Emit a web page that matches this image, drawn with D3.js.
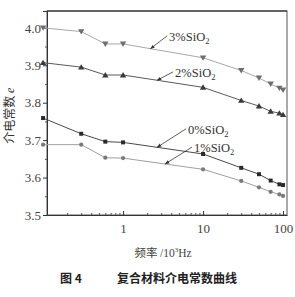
<!DOCTYPE html>
<html>
<head>
<meta charset="utf-8">
<script src="https://cdn.jsdelivr.net/npm/d3@7"></script>
<style>
  body { margin: 0; background: #fff; }
  svg { display: block; }
  .serif { font-family: "Liberation Serif", "DejaVu Serif", serif; }
  .cjk { font-family: "Noto Sans CJK SC", sans-serif; }
</style>
</head>
<body>
<svg width="295" height="297"></svg>
<script>
// data
const freqs = [0.1, 0.3, 0.6, 1, 10, 30, 50, 70, 90, 100];
const sio2_3 = [4.000, 3.990, 3.957, 3.957, 3.920, 3.886, 3.866, 3.850, 3.839, 3.834];
const sio2_2 = [3.907, 3.895, 3.874, 3.874, 3.841, 3.806, 3.791, 3.777, 3.772, 3.768];
const sio2_0 = [3.759, 3.717, 3.696, 3.694, 3.663, 3.626, 3.609, 3.592, 3.582, 3.580];
const sio2_1 = [3.688, 3.688, 3.653, 3.652, 3.622, 3.591, 3.574, 3.562, 3.555, 3.551];
const yTicks = [3.5, 3.6, 3.7, 3.8, 3.9, 4.0];
const xTicks = [1, 10, 100];

const series = [
  { name: "3", values: sio2_3, line: "#a8a8a8", mark: "#6e6e6e", shape: "down" },
  { name: "2", values: sio2_2, line: "#5a5a5a", mark: "#3a3a3a", shape: "up" },
  { name: "0", values: sio2_0, line: "#4a4a4a", mark: "#2a2a2a", shape: "square" },
  { name: "1", values: sio2_1, line: "#a0a0a0", mark: "#7a7a7a", shape: "circle" }
];

// label callouts: where the arrow touches the curve, where the text starts
const callouts = [
  { name: "3", tipF: 2.2, textF: 3.76, textV: 3.965 },
  { name: "2", tipF: 2.66, textF: 4.47, textV: 3.869 },
  { name: "0", tipF: 2.66, textF: 6.5, textV: 3.717 },
  { name: "1", tipF: 3.35, textF: 7.7, textV: 3.668 }
];

const svg = d3.select("svg");
const margin = { top: 11, right: 8, bottom: 82, left: 47 };
const width = +svg.attr("width") - margin.left - margin.right;
const height = +svg.attr("height") - margin.top - margin.bottom;

const x = d3.scaleLog().domain([0.112, 112]).range([0, width]);
const y = d3.scaleLinear().domain([3.5, 4.045]).range([height, 0]);

const g = svg.append("g")
  .attr("transform", `translate(${margin.left},${margin.top})`);

// arrow head
svg.append("defs").append("marker")
  .attr("id", "arrow")
  .attr("viewBox", "0 0 10 10")
  .attr("refX", 9).attr("refY", 5)
  .attr("markerWidth", 6).attr("markerHeight", 6)
  .attr("orient", "auto")
  .append("path")
    .attr("d", "M0,1.5L10,5L0,8.5Z")
    .attr("fill", "#333");

// frame
g.append("rect")
  .attr("width", width).attr("height", height)
  .attr("fill", "none").attr("stroke", "#555").attr("stroke-width", 1);
g.append("line")
  .attr("x1", 0).attr("x2", width).attr("y1", 0).attr("y2", 0)
  .attr("stroke", "#222").attr("stroke-width", 1.2);

// y axis
const yAxis = g.append("g")
  .attr("class", "serif")
  .call(d3.axisLeft(y).tickValues(yTicks).tickFormat(d3.format(".1f")).tickSize(4).tickPadding(2));
yAxis.select(".domain").attr("stroke", "#333");
yAxis.selectAll("text").attr("font-size", 13).attr("fill", "#444");
yAxis.selectAll("line").attr("stroke", "#333");
g.append("g")
  .call(d3.axisLeft(y).tickValues(d3.range(3.55, 4.05, 0.1)).tickFormat("").tickSize(2))
  .call(s => s.select(".domain").remove())
  .selectAll("line").attr("stroke", "#555");

// x axis (log), ticks pointing inward
const minor = [];
[0.1, 1, 10].forEach(d => d3.range(2, 10).forEach(k => minor.push(d * k)));
const xAxis = g.append("g")
  .attr("class", "serif")
  .attr("transform", `translate(0,${height})`)
  .call(d3.axisBottom(x).tickValues(xTicks).tickFormat(d3.format("d")).tickSizeInner(-4).tickSizeOuter(0).tickPadding(9));
xAxis.select(".domain").attr("stroke", "#333");
xAxis.selectAll("text").attr("font-size", 13).attr("fill", "#444");
xAxis.selectAll("line").attr("stroke", "#333");
g.append("g")
  .attr("transform", `translate(0,${height})`)
  .call(d3.axisBottom(x).tickValues(minor.filter(d => d > 0.112 && d < 112)).tickFormat("").tickSizeInner(-2).tickSizeOuter(0))
  .call(s => s.select(".domain").remove())
  .selectAll("line").attr("stroke", "#555");

// curves
const line = d3.line()
  .x((d, i) => x(freqs[i]))
  .y(d => y(d));

series.forEach(s => {
  g.append("path")
    .datum(s.values)
    .attr("fill", "none")
    .attr("stroke", s.line)
    .attr("stroke-width", 1)
    .attr("d", line);

  const pts = g.append("g").selectAll("path")
    .data(s.values)
    .enter().append("path")
      .attr("transform", (d, i) => `translate(${x(freqs[i])},${y(d)})`)
      .attr("fill", s.mark);

  if (s.shape === "down") pts.attr("d", "M-3.2,-2.4L3.2,-2.4L0,3Z");
  if (s.shape === "up") pts.attr("d", "M-3.2,2.4L3.2,2.4L0,-3Z");
  if (s.shape === "square") pts.attr("d", "M-2,-2H2V2H-2Z");
  if (s.shape === "circle") pts.attr("d", d3.symbol(d3.symbolCircle, 14)());
});

// callout labels with arrows
const valueAt = (vals, f) => {
  const lf = Math.log10(f);
  const i = d3.bisectLeft(freqs, f);
  const l0 = Math.log10(freqs[i - 1]), l1 = Math.log10(freqs[i]);
  return vals[i - 1] + (vals[i] - vals[i - 1]) * (lf - l0) / (l1 - l0);
};

callouts.forEach(c => {
  const s = series.find(d => d.name === c.name);
  const tx = x(c.tipF), ty = y(valueAt(s.values, c.tipF));
  const lx = x(c.textF), ly = y(c.textV);

  g.append("line")
    .attr("x1", lx - 2).attr("y1", ly - 5)
    .attr("x2", tx).attr("y2", ty)
    .attr("stroke", "#333").attr("stroke-width", 0.8)
    .attr("marker-end", "url(#arrow)");

  const t = g.append("text")
    .attr("class", "serif")
    .attr("x", lx).attr("y", ly)
    .attr("font-size", 12.5).attr("fill", "#333");
  t.append("tspan").text(`${c.name}%SiO`);
  t.append("tspan").attr("font-size", 8.5).attr("dy", 3).text("2");
});

// axis titles
const yTitle = svg.append("text")
  .attr("transform", `translate(14,${margin.top + y(3.765)}) rotate(-90)`)
  .attr("text-anchor", "middle")
  .attr("font-size", 12).attr("fill", "#333");
yTitle.append("tspan").attr("class", "cjk").text("介电常数 ");
yTitle.append("tspan").attr("class", "serif").attr("font-style", "italic").text("e");

const xTitle = svg.append("text")
  .attr("x", 163).attr("y", 257)
  .attr("text-anchor", "middle")
  .attr("font-size", 11.5).attr("fill", "#444");
xTitle.append("tspan").attr("class", "cjk").text("频率 ");
xTitle.append("tspan").attr("class", "serif").text("/10");
xTitle.append("tspan").attr("class", "serif").attr("font-size", 7).attr("dy", -5).text("3");
xTitle.append("tspan").attr("class", "serif").attr("dy", 5).text("Hz");

// caption
const caption = svg.append("g")
  .attr("class", "cjk")
  .attr("font-size", 12).attr("font-weight", "bold").attr("fill", "#222");
caption.append("text").attr("x", 60).attr("y", 283).text("图 4");
caption.append("text").attr("x", 117).attr("y", 283).text("复合材料介电常数曲线");
</script>
</body>
</html>
